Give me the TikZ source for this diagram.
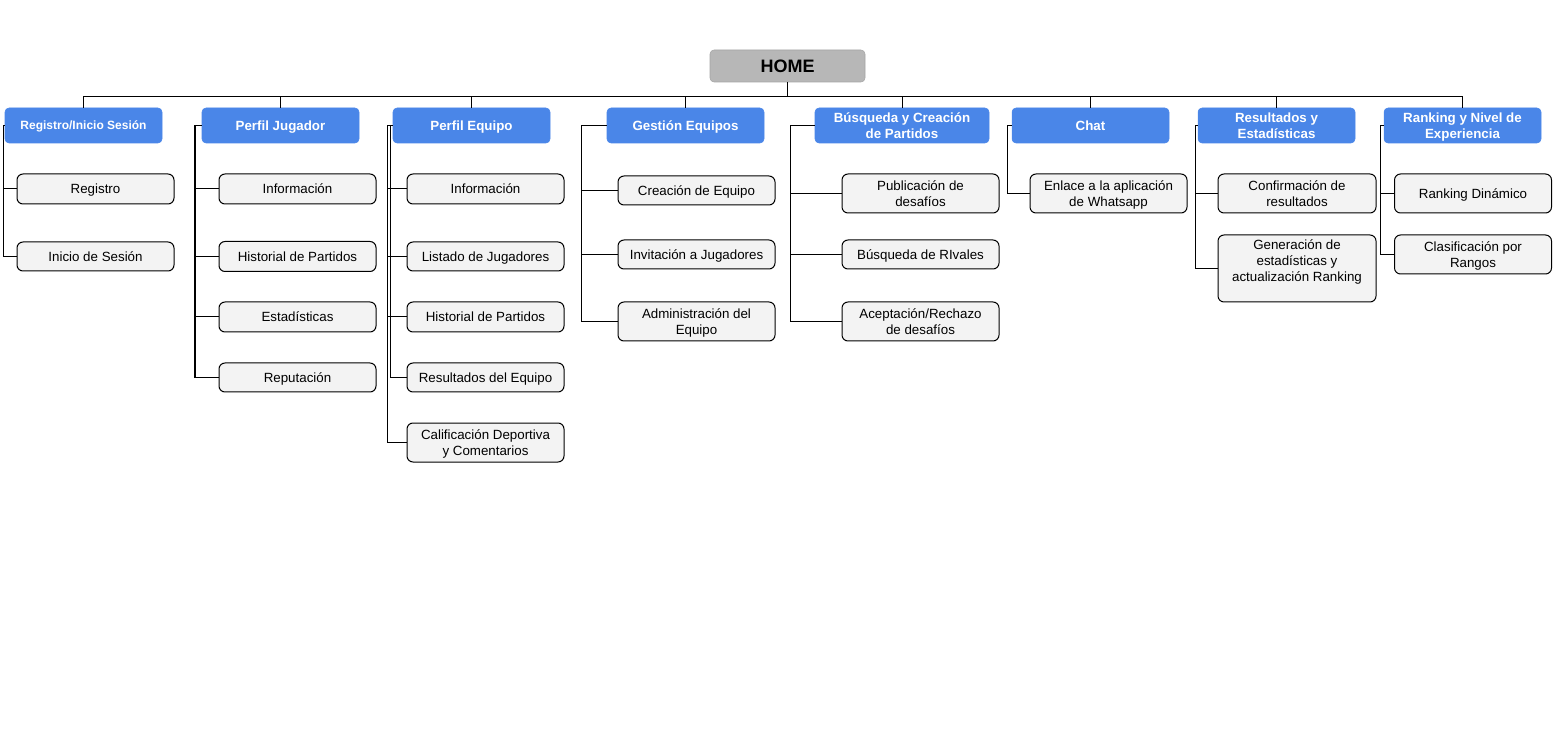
\documentclass[tikz,border=0pt]{standalone}
\usepackage{fontspec}
\setmainfont{Liberation Sans}
\definecolor{hblue}{HTML}{4A86E8}
\definecolor{hgray}{HTML}{B7B7B7}
\definecolor{lgray}{HTML}{F3F3F3}
% stacked, centred lines whose baseline is that of the first line
\newcommand\stack[1]{\begin{tabular}[t]{@{}c@{}}#1\end{tabular}}
\begin{document}
\begin{tikzpicture}[x=0.75pt,y=-0.75pt,
  % vertical text metrics for one, two and three lines at 10pt on a 12pt pitch
  one/.style={text height=9.6pt, text depth=2.4pt},
  two/.style={text height=9.6pt, text depth=14.4pt},
  three/.style={text height=9.6pt, text depth=26.4pt},
  homebox/.style={fill=hgray, draw=hgray!90!black, line width=0.4pt, rounded corners=3pt,
    font=\bfseries\fontsize{13.5}{16}\selectfont, text height=12.96pt, text depth=3.24pt,
    minimum width=116.25pt, minimum height=24pt, inner sep=0pt},
  hdr/.style={fill=hblue, draw=hblue, rounded corners=3pt, text=white, one,
    font=\bfseries\fontsize{10}{12}\selectfont, minimum width=117.75pt, minimum height=26.25pt,
    inner sep=0pt},
  leaf/.style={draw=black, line width=0.75pt, fill=lgray, rounded corners=4.5pt, one,
    font=\fontsize{10}{12}\selectfont, minimum width=117.75pt, minimum height=#1*0.75pt,
    inner sep=0pt},
  leaf/.default=30,
  link/.style={line width=0.75pt, draw=black}]
\useasboundingbox (0,0) rectangle (1558,737);

% root
\node[homebox] (home) at (787.5,66) {HOME};

% section headers
\node[hdr, font=\bfseries\fontsize{9}{11}\selectfont, text height=8.64pt, text depth=2.16pt]
  (h1) at (83.5,125.5) {Registro/Inicio Sesión};
\node[hdr] (h2) at (280.5,125.5) {Perfil Jugador};
\node[hdr] (h3) at (471.5,125.5) {Perfil Equipo};
\node[hdr] (h4) at (685.5,125.5) {Gestión Equipos};
\node[hdr, two, minimum width=130.5pt] (h5) at (902,125.5) {\stack{Búsqueda y Creación\\de Partidos}};
\node[hdr] (h6) at (1090.5,125.5) {Chat};
\node[hdr, two] (h7) at (1276.5,125.5) {\stack{Resultados y\\Estadísticas}};
\node[hdr, two] (h8) at (1462.5,125.5) {\stack{Ranking y Nivel de\\Experiencia}};

% bus from root to headers
\foreach \h in {h1,h2,h3,h4,h5,h6,h7,h8}
  \draw[link] (home.south) -- ++(0,14) -| (\h.north);

% Registro / Inicio Sesión
\node[leaf] (c11) at (95.5,189) {Registro};
\node[leaf=29] (c12) at (95.5,256.5) {Inicio de Sesión};

% Perfil Jugador
\node[leaf] (c21) at (297.5,189) {Información};
\node[leaf] (c22) at (297.5,256.5) {Historial de Partidos};
\node[leaf] (c23) at (297.5,317) {Estadísticas};
\node[leaf=29] (c24) at (297.5,377.5) {Reputación};

% Perfil Equipo
\node[leaf] (c31) at (485.5,189) {Información};
\node[leaf=29] (c32) at (485.5,256.5) {Listado de Jugadores};
\node[leaf] (c33) at (485.5,317) {Historial de Partidos};
\node[leaf=29] (c34) at (485.5,377.5) {Resultados del Equipo};
\node[leaf=39, two] (c35) at (485.5,442.5) {\stack{Calificación Deportiva\\y Comentarios}};

% Gestión Equipos
\node[leaf=29] (c41) at (696.5,190.5) {Creación de Equipo};
\node[leaf=29] (c42) at (696.5,254.5) {Invitación a Jugadores};
\node[leaf=39, two] (c43) at (696.5,321.5) {\stack{Administración del\\Equipo}};

% Búsqueda y Creación de Partidos
\node[leaf=39, two] (c51) at (920.5,193.5) {\stack{Publicación de\\desafíos}};
\node[leaf=29] (c52) at (920.5,254.5) {Búsqueda de RIvales};
\node[leaf=39, two] (c53) at (920.5,321.5) {\stack{Aceptación/Rechazo\\de desafíos}};

% Chat
\node[leaf=39, two] (c61) at (1108.5,193.5) {\stack{Enlace a la aplicación\\de Whatsapp}};

% Resultados y Estadísticas (the tall box keeps its text near the top)
\node[leaf=39, two, minimum width=118.5pt] (c71) at (1297,193.5) {\stack{Confirmación de\\resultados}};
\node[leaf=67, minimum width=118.5pt, text height=9.6pt, text depth=37.6pt]
  (c72) at (1297,268.5) {\stack{Generación de\\estadísticas y\\actualización Ranking}};

% Ranking y Nivel de Experiencia
\node[leaf=39] (c81) at (1473,193.5) {Ranking Dinámico};
\node[leaf=39, two] (c82) at (1473,254.5) {\stack{Clasificación por\\Rangos}};

% elbow connectors from each header to its items
\foreach \c in {c11,c12}
  \draw[link] (h1.west) -- ++(-1,0) |- (\c.west);
\foreach \c in {c21,c22,c23,c24}
  \draw[link] (h2.west) -- ++(-6,0) |- (\c.west);
\draw[link] (h2.west) -- ++(-7,0) |- (c24.west);
\foreach \c in {c31,c32,c33,c35}
  \draw[link] (h3.west) -- ++(-5,0) |- (\c.west);
\draw[link] (h3.west) -- ++(-2,0) |- (c34.west);
\foreach \c in {c41,c42,c43}
  \draw[link] (h4.west) -- ++(-25,0) |- (\c.west);
\foreach \c in {c51,c52,c53}
  \draw[link] (h5.west) -- ++(-24,0) |- (\c.west);
\draw[link] (h6.west) -- ++(-4,0) |- (c61.west);
\foreach \c in {c71,c72}
  \draw[link] (h7.west) -- ++(-2,0) |- (\c.west);
\foreach \c in {c81,c82}
  \draw[link] (h8.west) -- ++(-3,0) |- (\c.west);
\end{tikzpicture}
\end{document}
